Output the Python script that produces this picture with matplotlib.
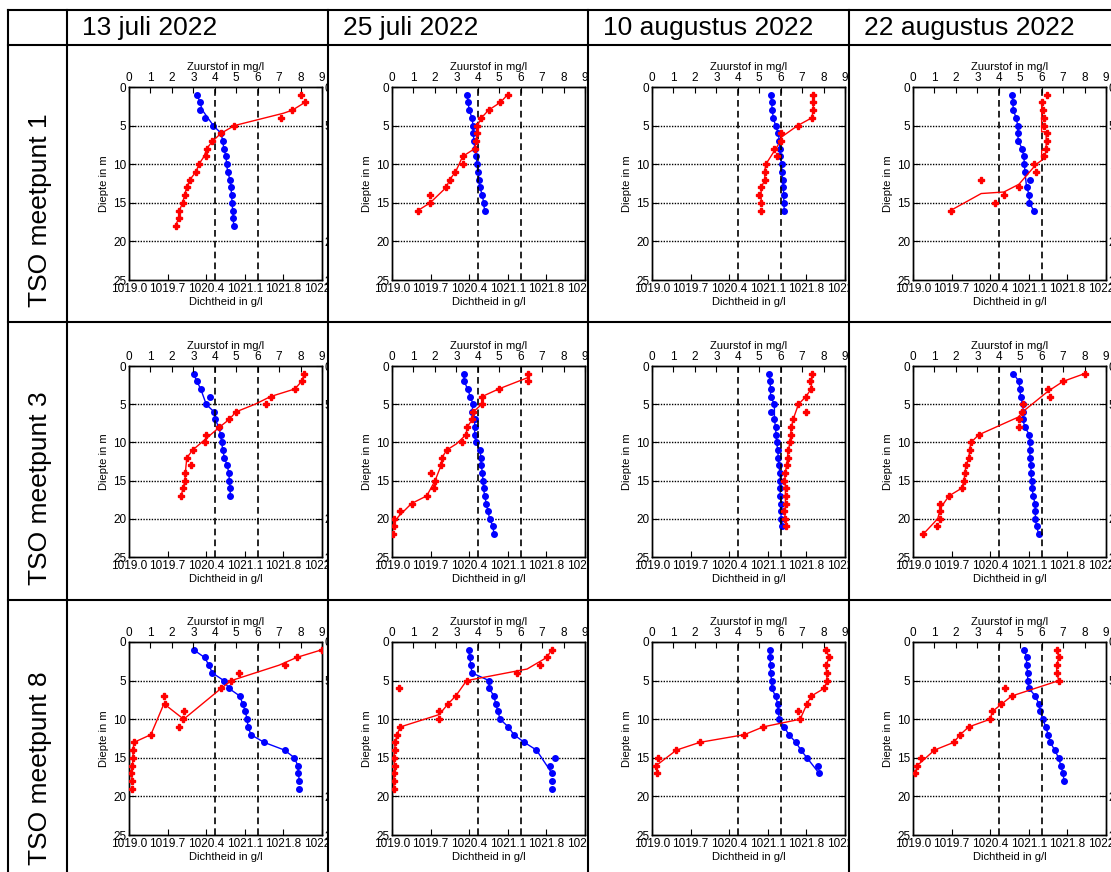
import matplotlib.pyplot as plt
from matplotlib.lines import Line2D
from matplotlib.patches import Rectangle

plt.rcParams['font.family'] = ['Liberation Sans', 'DejaVu Sans']
plt.rcParams['font.size'] = 8.5
plt.rcParams['xtick.direction'] = 'in'
plt.rcParams['ytick.direction'] = 'in'

W, H = 1111, 872

dates = ['13 juli 2022', '25 juli 2022', '10 augustus 2022', '22 augustus 2022']
locations = ['TSO meetpunt 1', 'TSO meetpunt 3', 'TSO meetpunt 8']

density_ticks = [1019.0, 1019.7, 1020.4, 1021.1, 1021.8, 1022.5]
oxygen_ticks = [0, 1, 2, 3, 4, 5, 6, 7, 8, 9]
depth_ticks = [0, 5, 10, 15, 20, 25]
guide_oxygen = [4, 6]
guide_depth = [5, 10, 15, 20]

# measurement depths (m)
depths = list(range(1, 23))

# --- meetpunt 1 ---
den11 = [1020.24, 1020.29, 1020.28, 1020.38, 1020.53, 1020.67, 1020.70, 1020.72, 1020.76, 1020.77, 1020.79, 1020.83, 1020.85, 1020.86, 1020.87, 1020.88, 1020.89, 1020.90]
den11_lz = [1, 3, 5, 6, 7, 8, 9, 10, 11, 12, 13, 14, 15, 16, 17, 18]
den11_l = [1020.24, 1020.33, 1020.53, 1020.67, 1020.70, 1020.72, 1020.76, 1020.77, 1020.79, 1020.83, 1020.85, 1020.86, 1020.87, 1020.88, 1020.89, 1020.90]
ox11 = [8.0, 8.2, 7.62, 7.10, 4.91, 4.29, 3.85, 3.62, 3.57, 3.26, 3.12, 2.84, 2.69, 2.59, 2.50, 2.31, 2.31, 2.17]
ox11_lz = [2, 3, 3.4, 5, 6, 7, 8, 9, 10, 11, 12, 13, 14, 15, 16, 17, 18]
ox11_l = [8.2, 7.62, 7.2, 4.91, 4.29, 3.9, 3.62, 3.5, 3.26, 3.12, 2.84, 2.69, 2.59, 2.50, 2.35, 2.31, 2.17]

den12 = [1020.36, 1020.38, 1020.40, 1020.45, 1020.47, 1020.47, 1020.49, 1020.50, 1020.53, 1020.54, 1020.56, 1020.58, 1020.59, 1020.64, 1020.66, 1020.68]
ox12 = [5.39, 5.05, 4.50, 4.17, 3.98, 3.95, 3.93, 3.85, 3.29, 3.29, 2.96, 2.69, 2.53, 1.78, 1.78, 1.21]
ox12_lz = [1, 2, 3, 4, 5, 6, 7, 8, 9, 10, 11, 12, 13, 15, 16]
ox12_l = [5.39, 5.05, 4.50, 4.17, 3.98, 3.95, 3.93, 3.85, 3.29, 3.13, 2.96, 2.69, 2.53, 1.78, 1.21]

den13 = [1021.15, 1021.17, 1021.18, 1021.20, 1021.24, 1021.29, 1021.31, 1021.32, 1021.33, 1021.35, 1021.36, 1021.37, 1021.38, 1021.39, 1021.39, 1021.40]
ox13 = [7.52, 7.52, 7.52, 7.45, 6.79, 6.00, 6.03, 5.70, 5.81, 5.31, 5.25, 5.27, 5.09, 5.00, 5.09, 5.09]
ox13_lz = [1, 2, 3, 4, 5, 6.5, 7, 10, 11, 12, 13, 15]
ox13_l = [7.52, 7.52, 7.52, 7.45, 6.79, 6.03, 6.0, 5.31, 5.25, 5.27, 5.09, 5.09]

den14 = [1020.80, 1020.81, 1020.82, 1020.87, 1020.90, 1020.90, 1020.91, 1020.98, 1021.01, 1021.02, 1021.03, 1021.12, 1021.06, 1021.11, 1021.11, 1021.19]
den14_lz = [1, 2, 3, 4, 5, 6, 7, 8, 9, 10, 11, 13, 14, 15, 16]
den14_l = [1020.80, 1020.81, 1020.82, 1020.87, 1020.90, 1020.90, 1020.91, 1020.98, 1021.01, 1021.02, 1021.03, 1021.06, 1021.11, 1021.11, 1021.19]
ox14 = [6.23, 6.02, 6.07, 6.10, 6.10, 6.24, 6.24, 6.21, 6.10, 5.62, 5.74, 3.18, 4.94, 4.24, 3.84, 1.75]
ox14_lz = [2, 5.8, 5.8, 8.2, 8.2, 9.5, 10, 12.6, 13.6, 13.8, 16]
ox14_l = [6.0, 6.0, 6.21, 6.21, 6.0, 6.0, 5.75, 4.94, 4.24, 3.18, 1.75]

# --- meetpunt 3 ---
den21 = [1020.17, 1020.23, 1020.30, 1020.46, 1020.40, 1020.54, 1020.56, 1020.63, 1020.66, 1020.68, 1020.70, 1020.73, 1020.78, 1020.81, 1020.82, 1020.83, 1020.84]
den21_lz = [1, 2, 3, 5, 6, 7, 8, 9, 10, 11, 12, 13, 14, 15, 16, 17]
den21_l = [1020.17, 1020.23, 1020.30, 1020.40, 1020.54, 1020.56, 1020.63, 1020.66, 1020.68, 1020.70, 1020.73, 1020.78, 1020.81, 1020.82, 1020.83, 1020.84]
ox21 = [8.18, 8.05, 7.74, 6.60, 6.41, 4.99, 4.67, 4.22, 3.57, 3.55, 2.97, 2.70, 2.90, 2.63, 2.61, 2.52, 2.43]
ox21_lz = [1, 2, 3, 4, 5, 6, 7, 8, 11, 12, 13, 14, 15, 16, 17]
ox21_l = [8.18, 8.05, 7.74, 6.60, 5.88, 4.99, 4.67, 4.22, 2.97, 2.70, 2.66, 2.63, 2.61, 2.52, 2.43]

den22 = [1020.30, 1020.31, 1020.37, 1020.42, 1020.47, 1020.45, 1020.50, 1020.50, 1020.50, 1020.52, 1020.60, 1020.61, 1020.62, 1020.64, 1020.65, 1020.66, 1020.68, 1020.71, 1020.74, 1020.77, 1020.83, 1020.85]
ox22 = [6.35, 6.35, 4.98, 4.20, 4.19, 3.79, 3.74, 3.51, 3.45, 3.28, 2.55, 2.33, 2.29, 1.84, 2.01, 1.96, 1.62, 0.91, 0.39, 0.08, 0.08, 0.06]
ox22_lz = [1, 1.5, 3, 4, 5, 6, 7, 8, 9, 10.2, 11, 12, 13, 15, 17, 18, 19.7, 21]
ox22_l = [6.35, 6.35, 4.98, 4.20, 4.19, 3.79, 3.74, 3.51, 3.45, 3.0, 2.55, 2.33, 2.29, 2.01, 1.62, 0.91, 0.3, 0.0]

den23 = [1021.13, 1021.14, 1021.15, 1021.15, 1021.22, 1021.16, 1021.22, 1021.24, 1021.25, 1021.26, 1021.28, 1021.29, 1021.30, 1021.32, 1021.33, 1021.32, 1021.33, 1021.34, 1021.34, 1021.34, 1021.35]
den23_lz = [1, 2, 3, 4, 5, 7, 8, 9, 10, 11, 12, 13, 14, 15, 16, 17, 18, 19, 20, 21]
den23_l = [1021.13, 1021.14, 1021.15, 1021.15, 1021.22, 1021.22, 1021.24, 1021.25, 1021.26, 1021.28, 1021.29, 1021.30, 1021.32, 1021.33, 1021.32, 1021.33, 1021.34, 1021.34, 1021.34, 1021.35]
ox23 = [7.48, 7.38, 7.42, 7.18, 6.83, 7.17, 6.58, 6.50, 6.47, 6.44, 6.35, 6.32, 6.28, 6.21, 6.15, 6.24, 6.24, 6.24, 6.17, 6.20, 6.24]
ox23_lz = [1, 3, 4, 5, 7, 8, 9, 10, 11, 12, 13, 14, 15, 16, 17, 18, 19, 20]
ox23_l = [7.48, 7.42, 7.18, 6.83, 6.58, 6.50, 6.47, 6.44, 6.35, 6.32, 6.28, 6.21, 6.2, 6.22, 6.22, 6.22, 6.2, 6.2]

den24 = [1020.82, 1020.92, 1020.94, 1020.95, 1020.99, 1021.00, 1020.99, 1021.03, 1021.11, 1021.12, 1021.12, 1021.12, 1021.14, 1021.14, 1021.15, 1021.16, 1021.18, 1021.21, 1021.22, 1021.22, 1021.24, 1021.28]
ox24 = [8.0, 7.01, 6.28, 6.37, 5.12, 5.08, 4.94, 4.95, 3.07, 2.70, 2.64, 2.61, 2.47, 2.42, 2.38, 2.27, 1.68, 1.28, 1.25, 1.25, 1.13, 0.48]
ox24_lz = [1, 2, 3.3, 5.8, 6.7, 9, 10, 11, 12, 13, 14, 15, 16, 17, 18.5, 20, 22]
ox24_l = [8.0, 7.01, 6.3, 5.2, 4.9, 3.07, 2.70, 2.64, 2.61, 2.47, 2.42, 2.38, 2.27, 1.68, 1.3, 1.15, 0.48]

# --- meetpunt 8 ---
den31 = [1020.17, 1020.37, 1020.45, 1020.51, 1020.72, 1020.81, 1021.01, 1021.06, 1021.11, 1021.14, 1021.16, 1021.21, 1021.45, 1021.82, 1022.00, 1022.06, 1022.07, 1022.09, 1022.09]
den31_lz = [1, 2, 3, 4, 5, 6, 7, 8, 9, 10, 11, 12, 13, 14, 15, 16, 17, 18]
den31_l = [1020.17, 1020.37, 1020.45, 1020.51, 1020.72, 1020.81, 1021.01, 1021.06, 1021.11, 1021.14, 1021.16, 1021.21, 1021.45, 1021.82, 1022.00, 1022.06, 1022.07, 1022.09]
ox31 = [9.0, 7.82, 7.28, 5.13, 4.77, 4.30, 1.63, 1.66, 2.55, 2.54, 2.35, 1.02, 0.23, 0.19, 0.19, 0.16, 0.11, 0.16, 0.16]
ox31_lz = [1, 2, 3, 5, 6, 10, 8, 12, 13, 14, 15, 16, 17, 18]
ox31_l = [9.0, 7.82, 7.0, 4.77, 4.30, 2.55, 1.63, 1.02, 0.23, 0.19, 0.19, 0.16, 0.11, 0.16]

den32 = [1020.39, 1020.41, 1020.43, 1020.45, 1020.76, 1020.76, 1020.85, 1020.88, 1020.92, 1020.96, 1021.11, 1021.21, 1021.40, 1021.62, 1021.96, 1021.87, 1021.90, 1021.91, 1021.91]
den32_lz = [1, 2, 3, 4, 5, 6, 7, 8, 9, 10, 11, 12, 13, 14, 17]
den32_l = [1020.39, 1020.41, 1020.43, 1020.45, 1020.76, 1020.76, 1020.85, 1020.88, 1020.92, 1020.96, 1021.11, 1021.21, 1021.40, 1021.62, 1021.90]
ox32 = [7.45, 7.22, 6.91, 5.82, 3.48, 0.31, 2.97, 2.62, 2.20, 2.20, 0.39, 0.23, 0.16, 0.16, 0.09, 0.12, 0.11, 0.08, 0.09]
ox32_lz = [1, 2, 3.5, 5, 7, 8, 9.4, 11, 12, 13, 14, 15, 16, 17, 18, 19]
ox32_l = [7.45, 7.22, 6.3, 3.48, 2.97, 2.62, 2.20, 0.39, 0.23, 0.16, 0.12, 0.09, 0.12, 0.11, 0.08, 0.09]

den33 = [1021.14, 1021.14, 1021.15, 1021.15, 1021.17, 1021.17, 1021.24, 1021.28, 1021.29, 1021.31, 1021.40, 1021.48, 1021.61, 1021.70, 1021.81, 1022.01, 1022.03]
den33_lz = [1, 2, 3, 4, 5, 6, 7, 8, 9, 10, 11, 12, 13, 14, 15, 17]
den33_l = [1021.14, 1021.14, 1021.15, 1021.15, 1021.17, 1021.17, 1021.24, 1021.28, 1021.29, 1021.31, 1021.40, 1021.48, 1021.61, 1021.70, 1021.81, 1022.03]
ox33 = [8.11, 8.26, 8.12, 8.14, 8.17, 8.03, 7.43, 7.23, 6.82, 6.91, 5.18, 4.31, 2.23, 1.14, 0.26, 0.20, 0.22]
ox33_lz = [1, 2, 3, 4, 5, 6, 7, 8, 10, 11, 12, 13, 14, 16]
ox33_l = [8.11, 8.26, 8.12, 8.14, 8.17, 8.03, 7.43, 7.23, 6.91, 5.18, 4.31, 2.23, 1.14, 0.20]

den34 = [1021.02, 1021.06, 1021.06, 1021.08, 1021.08, 1021.10, 1021.22, 1021.28, 1021.31, 1021.35, 1021.41, 1021.45, 1021.49, 1021.57, 1021.64, 1021.68, 1021.72, 1021.74]
ox34 = [6.7, 6.8, 6.7, 6.7, 6.8, 4.3, 4.6, 4.1, 3.7, 3.6, 2.6, 2.2, 1.9, 1.0, 0.35, 0.2, 0.1]
ox34_lz = [1, 2, 3, 4, 5, 7, 9, 10, 11, 12, 13, 14, 16, 17]
ox34_l = [6.7, 6.8, 6.7, 6.7, 6.8, 4.6, 3.7, 3.6, 2.6, 2.2, 1.9, 1.0, 0.2, 0.1]

panels = [
    [(den11, den11_lz, den11_l, ox11, ox11_lz, ox11_l),
     (den12, None, None, ox12, ox12_lz, ox12_l),
     (den13, None, None, ox13, ox13_lz, ox13_l),
     (den14, den14_lz, den14_l, ox14, ox14_lz, ox14_l)],
    [(den21, den21_lz, den21_l, ox21, ox21_lz, ox21_l),
     (den22, None, None, ox22, ox22_lz, ox22_l),
     (den23, den23_lz, den23_l, ox23, ox23_lz, ox23_l),
     (den24, None, None, ox24, ox24_lz, ox24_l)],
    [(den31, den31_lz, den31_l, ox31, ox31_lz, ox31_l),
     (den32, den32_lz, den32_l, ox32, ox32_lz, ox32_l),
     (den33, den33_lz, den33_l, ox33, ox33_lz, ox33_l),
     (den34, None, None, ox34, ox34_lz, ox34_l)],
]

# table geometry in pixels
col_lines = [8, 67, 328, 588, 849]
row_lines = [10, 45, 322, 600]
row_bottoms = [322, 600, 880]
axes_left = [129, 392, 652, 913]
axes_top = [87, 366, 642]
axes_h = [193, 191, 193]
axes_w = 193


def fx(px):
    return px / W


def fy(py):
    return 1 - py / H


fig = plt.figure(figsize=(W / 100, H / 100), dpi=100)

for r in range(3):
    for c in range(4):
        den, den_lz, den_l, ox, ox_lz, ox_l = panels[r][c]
        if den_lz is None:
            den_lz, den_l = depths[:len(den)], den
        ax = fig.add_axes([fx(axes_left[c]), fy(axes_top[r] + axes_h[r]),
                           axes_w / W, axes_h[r] / H])
        ax.set_xlim(density_ticks[0], density_ticks[-1])
        ax.set_ylim(25, 0)
        ax.set_xticks(density_ticks)
        ax.set_xticklabels(['%.1f' % t for t in density_ticks])
        ax.set_yticks(depth_ticks)
        ax.tick_params(axis='y', right=True, labelright=True, length=4, pad=2)
        ax.tick_params(axis='x', length=4, pad=2)
        ax.set_xlabel('Dichtheid in g/l', labelpad=1.5, fontsize=8)
        ax.set_ylabel('Diepte in m', labelpad=3, fontsize=8)
        for z in guide_depth:
            ax.axhline(z, color='k', lw=1.0, ls=(0, (1, 1)), zorder=1)
        ax.plot(den_l, den_lz, color='blue', lw=1, zorder=3)
        ax.plot(den, depths[:len(den)], 'o', color='blue', ms=4, zorder=4)

        ax2 = ax.twiny()
        ax2.set_xlim(oxygen_ticks[0], oxygen_ticks[-1])
        ax2.set_xticks(oxygen_ticks)
        ax2.tick_params(axis='x', length=4, pad=2)
        ax2.set_xlabel('Zuurstof in mg/l', labelpad=1.5, fontsize=8)
        for o in guide_oxygen:
            ax2.axvline(o, color='k', lw=1.2, ls=(0, (4, 2.5)), zorder=2)
        ax2.plot(ox_l, ox_lz, color='red', lw=1, zorder=3)
        ax2.plot(ox, depths[:len(ox)], 'P', color='red', ms=4.5, zorder=4)

        for a in (ax, ax2):
            for s in a.spines.values():
                s.set_linewidth(1.0)

# hide axis overflow into the next cell
for x in col_lines[2:]:
    fig.add_artist(Rectangle((fx(x), 0), 24 / W, fy(row_lines[1]),
                             transform=fig.transFigure, fc='white', ec='none', zorder=5))

# table grid
for y in row_lines:
    fig.add_artist(Line2D([fx(col_lines[0]), 1], [fy(y), fy(y)],
                          transform=fig.transFigure, color='k', lw=1.5, zorder=10))
for x in col_lines:
    fig.add_artist(Line2D([fx(x), fx(x)], [fy(row_lines[0]), 0],
                          transform=fig.transFigure, color='k', lw=1.5, zorder=10))

for c, d in enumerate(dates):
    fig.text(fx(col_lines[c + 1] + 15), fy(28), d, fontsize=19, va='center', ha='left', zorder=11)
for r, loc in enumerate(locations):
    fig.text(fx(40), fy(row_bottoms[r] - 15), loc, fontsize=19, rotation=90,
             ha='center', va='bottom', zorder=11)

fig.savefig('out.png', dpi=100)
